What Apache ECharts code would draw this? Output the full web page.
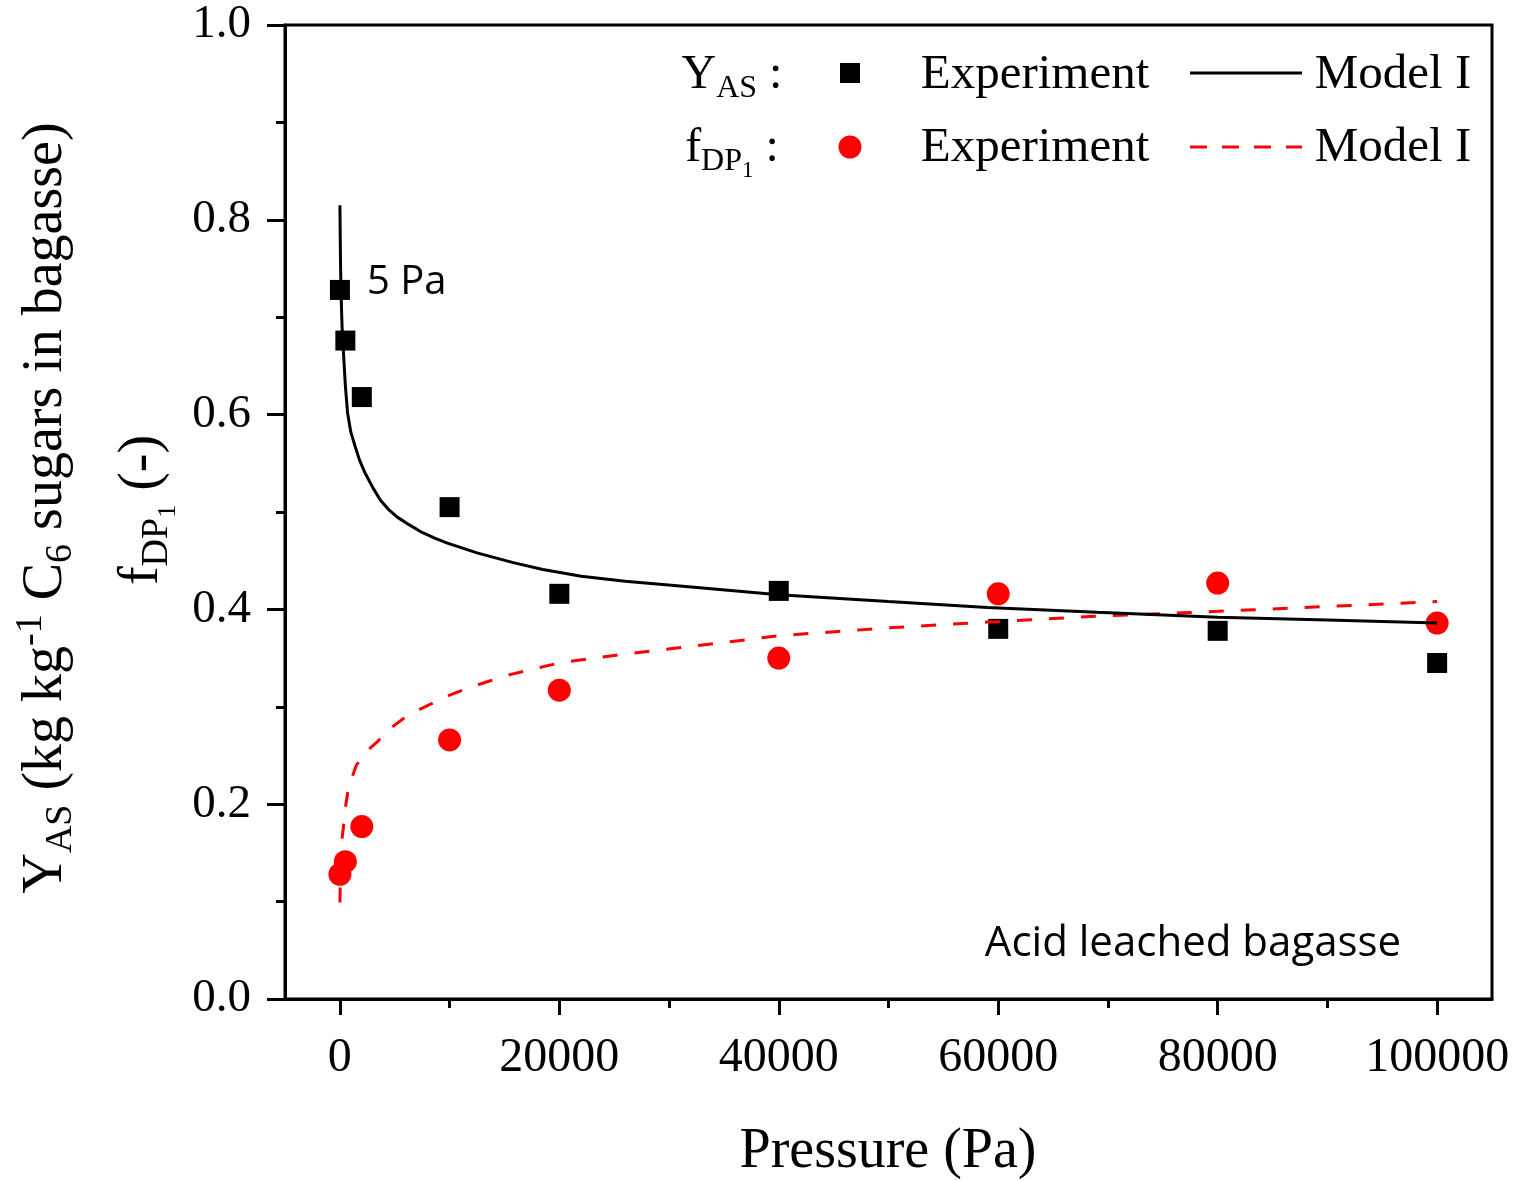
<!DOCTYPE html>
<html>
<head>
<meta charset="utf-8">
<script src="https://cdn.jsdelivr.net/npm/echarts@6/dist/echarts.min.js"></script>
<style>
html,body{margin:0;padding:0;background:#fff;}
#chart{width:1516px;height:1181px;}
</style>
</head>
<body>
<div id="chart"></div>
<script>
// Experimental data (Pressure in Pa)
const expPressure = [5, 500, 2000, 10000, 20000, 40000, 60000, 80000, 100000];
const yasExp = [0.728, 0.676, 0.618, 0.505, 0.416, 0.419, 0.380, 0.378, 0.345];
const fdpExp = [0.128, 0.141, 0.177, 0.266, 0.317, 0.350, 0.416, 0.427, 0.386];

// Model I curves
const yasModelP = [5, 50, 100, 200, 300, 500, 700, 1000, 1400, 1800, 2300, 3000, 3700, 4400, 5200, 6300, 7500, 8700, 9800, 12500, 15800, 18500, 22000, 26000, 31000, 40000, 50000, 59000, 69000, 80000, 90000, 100000];
const yasModelV = [0.815, 0.765, 0.728, 0.690, 0.669, 0.630, 0.602, 0.582, 0.567, 0.553, 0.540, 0.525, 0.512, 0.503, 0.495, 0.487, 0.479, 0.473, 0.468, 0.458, 0.448, 0.441, 0.434, 0.429, 0.424, 0.415, 0.408, 0.402, 0.397, 0.392, 0.389, 0.386];
const fdpModelP = [5, 50, 100, 200, 300, 500, 700, 1000, 1500, 2300, 3400, 4500, 5800, 7000, 8500, 10000, 11600, 13500, 15500, 17700, 20000, 24500, 29000, 35000, 40000, 50000, 59000, 69000, 80000, 90000, 100000];
const fdpModelV = [0.099, 0.128, 0.150, 0.165, 0.174, 0.196, 0.211, 0.224, 0.240, 0.253, 0.264, 0.277, 0.288, 0.296, 0.304, 0.312, 0.319, 0.326, 0.333, 0.339, 0.345, 0.352, 0.358, 0.366, 0.373, 0.381, 0.387, 0.393, 0.398, 0.403, 0.408];

const xMajorTicks = [0, 20000, 40000, 60000, 80000, 100000];
const xMinorTicks = [10000, 30000, 50000, 70000, 90000];

const zip = (a, b) => a.map((v, i) => [v, b[i]]);
const SERIF = '"Liberation Serif", "DejaVu Serif", serif';
const SANS = '"Open Sans", "Noto Sans", sans-serif';

const chart = echarts.init(document.getElementById('chart'), null, {renderer: 'canvas'});

const subRich = {
  n: {fontFamily: SERIF, fontSize: 48, color: '#000'},
  sub: {fontFamily: SERIF, fontSize: 32, color: '#000', padding: [28, 0, 0, 0]},
  subsub: {fontFamily: SERIF, fontSize: 23, color: '#000', padding: [46, 0, 0, 0]}
};
const ttlRich = {
  n: {fontFamily: SERIF, fontSize: 56, color: '#000'},
  sub: {fontFamily: SERIF, fontSize: 38, color: '#000', padding: [30, 0, 0, 0]},
  sup: {fontFamily: SERIF, fontSize: 38, color: '#000', padding: [0, 0, 30, 0]},
  subsub: {fontFamily: SERIF, fontSize: 26, color: '#000', padding: [52, 0, 0, 0]}
};

const option = {
  backgroundColor: '#fff',
  animation: false,
  grid: {left: 285, right: 24, top: 25, bottom: 182, show: true, borderColor: '#000', borderWidth: 3, backgroundColor: 'transparent'},
  xAxis: [{
    type: 'value', min: -5000, max: 105000, position: 'bottom',
    axisLine: {show: true, onZero: false, lineStyle: {color: '#000', width: 3}},
    axisTick: {show: true, inside: false, length: 16, customValues: xMajorTicks, lineStyle: {color: '#000', width: 3}},
    axisLabel: {show: true, customValues: xMajorTicks, formatter: v => String(v), margin: 35, fontFamily: SERIF, fontSize: 48, color: '#000'},
    splitLine: {show: false}
  }, {
    type: 'value', min: -5000, max: 105000, position: 'bottom',
    axisLine: {show: false, onZero: false},
    axisTick: {show: true, inside: false, length: 9, customValues: xMinorTicks, lineStyle: {color: '#000', width: 3}},
    axisLabel: {show: false},
    splitLine: {show: false}
  }],
  yAxis: {
    type: 'value', min: 0, max: 1, interval: 0.2,
    axisLine: {show: true, onZero: false, lineStyle: {color: '#000', width: 3}},
    axisTick: {show: true, inside: false, length: 18, lineStyle: {color: '#000', width: 3}},
    minorTick: {show: true, splitNumber: 2, length: 9, lineStyle: {color: '#000', width: 3}},
    axisLabel: {formatter: v => v.toFixed(1), margin: 34, fontFamily: SERIF, fontSize: 47, color: '#000'},
    splitLine: {show: false}
  },
  series: [
    {type: 'scatter', name: 'YAS exp', xAxisIndex: 0, data: zip(expPressure, yasExp), symbol: 'rect', symbolSize: 20, itemStyle: {color: '#000', opacity: 1}, z: 2},
    {type: 'scatter', name: 'fDP exp', xAxisIndex: 0, data: zip(expPressure, fdpExp), symbol: 'circle', symbolSize: 23, itemStyle: {color: '#ff0000', opacity: 1}, z: 2},
    {type: 'line', name: 'fDP model', xAxisIndex: 0, data: zip(fdpModelP, fdpModelV), showSymbol: false, smooth: false, lineStyle: {color: '#ff0000', width: 3, type: [15, 17]}, z: 3},
    {type: 'line', name: 'YAS model', xAxisIndex: 0, data: zip(yasModelP, yasModelV), showSymbol: false, smooth: false, lineStyle: {color: '#000', width: 3}, z: 4}
  ],
  graphic: [
    // legend row 1
    {type: 'text', x: 732, y: 75, style: {text: '{n|Y}{sub|AS}{n| :}', rich: subRich, align: 'center', verticalAlign: 'middle'}},
    {type: 'rect', shape: {x: 840, y: 63, width: 20, height: 20}, style: {fill: '#000'}},
    {type: 'text', x: 1035, y: 75, style: {text: 'Experiment', fontFamily: SERIF, fontSize: 49, fill: '#000', align: 'center', verticalAlign: 'middle'}},
    {type: 'line', shape: {x1: 1190, y1: 73, x2: 1302, y2: 73}, style: {stroke: '#000', lineWidth: 3}},
    {type: 'text', x: 1393, y: 75, style: {text: 'Model I', fontFamily: SERIF, fontSize: 49, fill: '#000', align: 'center', verticalAlign: 'middle'}},
    // legend row 2
    {type: 'text', x: 732, y: 148, style: {text: '{n|f}{sub|DP}{subsub|1}{n| :}', rich: subRich, align: 'center', verticalAlign: 'middle'}},
    {type: 'circle', shape: {cx: 850, cy: 147, r: 11.5}, style: {fill: '#ff0000'}},
    {type: 'text', x: 1035, y: 148, style: {text: 'Experiment', fontFamily: SERIF, fontSize: 49, fill: '#000', align: 'center', verticalAlign: 'middle'}},
    {type: 'line', shape: {x1: 1190, y1: 147, x2: 1302, y2: 147}, style: {stroke: '#ff0000', lineWidth: 3, lineDash: [17, 15]}},
    {type: 'text', x: 1393, y: 148, style: {text: 'Model I', fontFamily: SERIF, fontSize: 49, fill: '#000', align: 'center', verticalAlign: 'middle'}},
    // annotations
    {type: 'text', x: 367, y: 283, style: {text: '5 Pa', fontFamily: SANS, fontSize: 40, fill: '#000', align: 'left', verticalAlign: 'middle'}},
    {type: 'text', x: 1193, y: 944, style: {text: 'Acid leached bagasse', fontFamily: SANS, fontSize: 42, fill: '#000', align: 'center', verticalAlign: 'middle'}},
    // x axis title
    {type: 'text', x: 888, y: 1152, style: {text: 'Pressure (Pa)', fontFamily: SERIF, fontSize: 56, fill: '#000', align: 'center', verticalAlign: 'middle'}},
    // y axis titles
    {type: 'text', x: 46, y: 508, rotation: Math.PI / 2, style: {text: '{n|Y}{sub|AS}{n| (kg kg}{sup|-1}{n| C}{sub|6}{n| sugars in bagasse)}', rich: ttlRich, align: 'center', verticalAlign: 'middle'}},
    {type: 'text', x: 142, y: 510, rotation: Math.PI / 2, style: {text: '{n|f}{sub|DP}{subsub|1}{n| (-)}', rich: ttlRich, align: 'center', verticalAlign: 'middle'}}
  ]
};
chart.setOption(option);
</script>
</body>
</html>
